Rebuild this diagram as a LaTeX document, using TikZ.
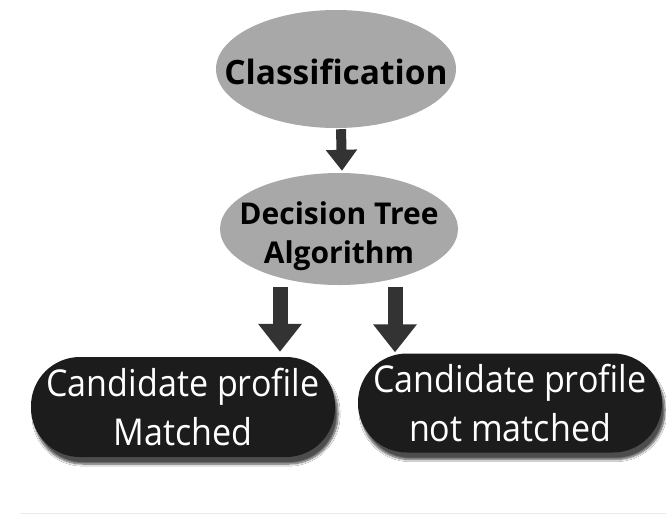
\documentclass[tikz,border=0pt]{standalone}
\usepackage{fontspec}
\setmainfont{Open Sans}
\newfontfamily\condfont[FakeStretch=0.92]{Open Sans}
\usetikzlibrary{shapes.geometric,arrows.meta,shadows.blur}
\definecolor{ovalgray}{HTML}{A8A8A8}
\definecolor{boxblack}{HTML}{1C1C1C}
\definecolor{arrowgray}{HTML}{333333}
\tikzset{
  oval/.style={ellipse, fill=ovalgray, inner sep=0pt},
  ovaltext/.style={align=center, inner sep=0pt},
  resultbox/.style={rectangle, rounded corners=49pt, fill=boxblack, text=white,
    inner sep=0pt, align=center,
    font=\condfont\fontsize{37}{49}\selectfont,
    blur shadow={shadow xshift=3pt, shadow yshift=-7pt, shadow blur steps=8,
      shadow blur extra rounding=4pt, shadow opacity=70}},
  bigarrow/.style={draw=arrowgray, line width=10pt,
    -{Triangle[width=30pt,length=21pt]}},
  widearrow/.style={draw=arrowgray, line width=15pt,
    -{Triangle[width=42pt,length=28pt]}}
}
\begin{document}
\begin{tikzpicture}[x=1pt,y=-1pt]
  \useasboundingbox (0,0) rectangle (666,520);
  \fill[white] (0,0) rectangle (666,520);

  % the two ovals, with their captions set on top
  \node[oval, minimum width=240pt, minimum height=118pt] (cls) at (336,69) {};
  \node[ovaltext, font=\bfseries\fontsize{33.5}{38}\selectfont] (clstext)
    at ([yshift=-3pt]cls.center) {Classification};
  \node[oval, minimum width=238pt, minimum height=112pt] (dt) at (339,229) {};
  \node[ovaltext, font=\bfseries\fontsize{30}{39}\selectfont] (dttext)
    at ([yshift=-7pt]dt.center) {Decision Tree\\Algorithm};

  % the two outcomes
  \node[resultbox, minimum width=304pt, minimum height=100pt] (yes) at (183,407)
    {Candidate profile\\Matched};
  \node[resultbox, minimum width=304pt, minimum height=99pt] (no) at (510,403)
    {Candidate profile\\not matched};

  % connectors
  \draw[bigarrow] ([xshift=5pt,yshift=-1pt]cls.south) -- ([xshift=3pt,yshift=2pt]dt.north);
  \draw[widearrow] ([xshift=-59pt,yshift=-2pt]dt.south) -- ([xshift=97pt,yshift=5pt]yes.north);
  \draw[widearrow] ([xshift=56pt,yshift=-2pt]dt.south) -- ([xshift=-115pt,yshift=1pt]no.north);

  % faint rule along the foot
  \draw[black!8, line width=1pt] (20,513) -- (666,513);
\end{tikzpicture}
\end{document}
